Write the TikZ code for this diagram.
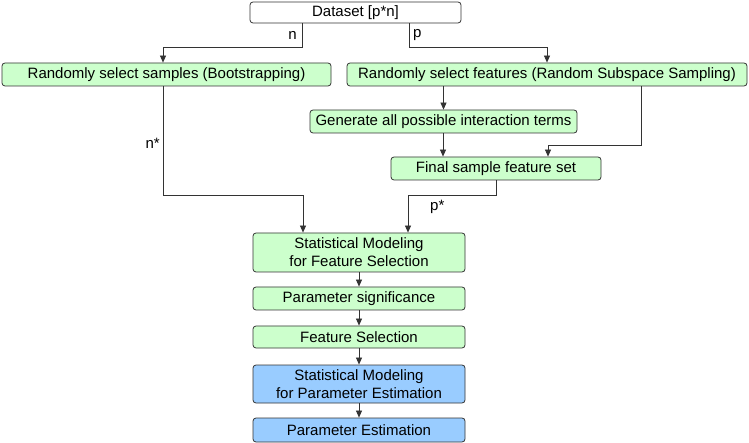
\documentclass[tikz,border=0pt]{standalone}
\usepackage{fontspec}
\setmainfont{Liberation Sans}
\usetikzlibrary{arrows.meta}
\definecolor{gfill}{HTML}{CCFFCC}
\definecolor{bfill}{HTML}{99CCFF}
\definecolor{edge}{HTML}{333333}
\begin{document}
\begin{tikzpicture}[x=1pt,y=-1pt,
  box/.style={draw=edge,line width=0.8pt,rounded corners=3pt,inner sep=0pt,align=center,font=\fontsize{15}{18}\selectfont},
  gbox/.style={box,fill=gfill},
  bbox/.style={box,fill=bfill},
  wbox/.style={box,fill=white},
  conn/.style={draw=edge,line width=0.7pt,-{Triangle[length=7pt,width=6pt]}},
  lab/.style={font=\fontsize{15}{18}\selectfont,inner sep=0pt}]
\useasboundingbox (0,0) rectangle (749,443);
\node[wbox,minimum width=211pt,minimum height=21pt] (ds) at (355.5,12.5) {Dataset [p*n]};
\node[gbox,minimum width=329pt,minimum height=23pt] (bs) at (166.5,74.5) {Randomly select samples (Bootstrapping)};
\node[gbox,minimum width=400pt,minimum height=23pt] (rs) at (547,74.5) {Randomly select features (Random Subspace Sampling)};
\node[gbox,minimum width=267pt,minimum height=23pt] (gi) at (443.5,121.5) {Generate all possible interaction terms};
\node[gbox,minimum width=210pt,minimum height=23pt] (fs) at (496,168.5) {Final sample feature set};
\node[gbox,minimum width=212pt,minimum height=39pt] (sm) at (359,252.5) {Statistical Modeling\\for Feature Selection};
\node[gbox,minimum width=212pt,minimum height=23pt] (ps) at (359,298.5) {Parameter significance};
\node[gbox,minimum width=212pt,minimum height=22pt] (fsel) at (359,337) {Feature Selection};
\node[bbox,minimum width=212pt,minimum height=38pt] (smp) at (359,384) {Statistical Modeling\\for Parameter Estimation};
\node[bbox,minimum width=212pt,minimum height=24pt] (pe) at (359,430) {Parameter Estimation};
% connectors
\coordinate (a1) at (302,47);
\coordinate (a2) at (409,47);
\draw[conn] (ds.south -| a1) |- (a1) -| (bs.north -| 163,0);
\draw[conn] (ds.south -| a2) |- (a2) -| (rs.north);
\node[lab,anchor=east] (ln) at (297,35) {n};
\node[lab,anchor=west] (lp) at (413,35) {p};
\draw[conn] (rs.south -| gi.north) -- (gi.north);
\draw[conn] (gi.south -| 443,0) -- (fs.north -| 443,0);
\coordinate (r1) at (641,145);
\draw[conn] (rs.south -| r1) |- (r1) -| (fs.north -| 548,0);
\coordinate (b1) at (163,195);
\draw[conn] (bs.south -| b1) |- (b1) -| (sm.north -| 303,0);
\node[lab,anchor=east] (lns) at (160,143) {n*};
\coordinate (f1) at (496,195);
\draw[conn] (fs.south -| f1) |- (f1) -| (sm.north -| 408,0);
\node[lab,anchor=west] (lps) at (430,207) {p*};
\draw[conn] (sm) -- (ps);
\draw[conn] (ps) -- (fsel);
\draw[conn] (fsel) -- (smp);
\draw[conn] (smp) -- (pe);
\end{tikzpicture}
\end{document}
